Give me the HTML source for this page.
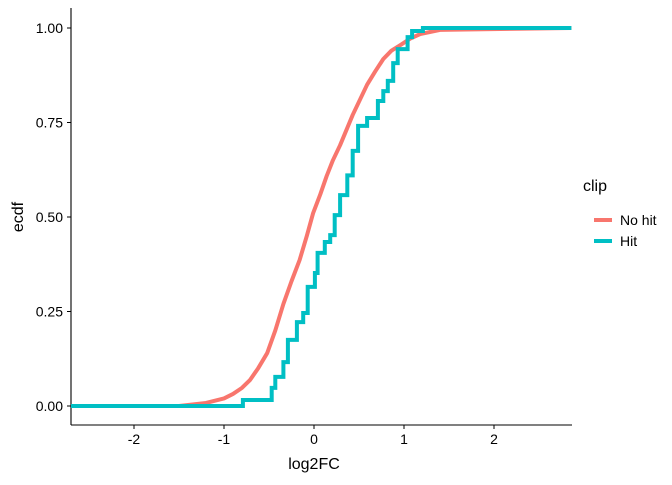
<!DOCTYPE html>
<html><head><meta charset="utf-8"><style>
body{margin:0;background:#fff;}
svg text{font-family:"Liberation Sans",Arial,sans-serif;}
</style></head><body>
<svg id="chart" width="672" height="480" xmlns="http://www.w3.org/2000/svg">
<g id="axes"></g>
<g id="series"></g>
<text x="314" y="469" font-size="16" text-anchor="middle" fill="#000">log2FC</text>
<text transform="translate(23,217) rotate(-90)" font-size="16" text-anchor="middle" fill="#000">ecdf</text>
<g>
<text x="583" y="191" font-size="16" fill="#000">clip</text>
<line x1="594" x2="612" y1="220" y2="220" stroke="#F8766D" stroke-width="4"/>
<text x="620" y="225" font-size="14" fill="#000">No hit</text>
<line x1="594" x2="612" y1="241" y2="241" stroke="#00BFC4" stroke-width="4"/>
<text x="620" y="246" font-size="14" fill="#000">Hit</text>
</g>
</svg>
<script>
const xTicks=[-2,-1,0,1,2];
const xTickLabels=["-2","-1","0","1","2"];
const yTicks=[0,0.25,0.5,0.75,1];
const yTickLabels=["0.00","0.25","0.50","0.75","1.00"];
const noHitX=[-2.7,-1.5,-1.2,-1.0,-0.9,-0.8,-0.71,-0.62,-0.52,-0.43,-0.34,-0.25,-0.16,-0.08,-0.01,0.07,0.14,0.21,0.29,0.36,0.43,0.51,0.59,0.68,0.77,0.86,0.96,1.07,1.18,1.4,2.86];
const noHitY=[0,0,0.008,0.02,0.032,0.048,0.069,0.1,0.14,0.2,0.27,0.33,0.386,0.45,0.51,0.56,0.608,0.65,0.69,0.73,0.77,0.81,0.85,0.885,0.918,0.94,0.955,0.972,0.984,0.995,1];
const hitX=[-2.7,-0.79,-0.47,-0.43,-0.34,-0.29,-0.19,-0.12,-0.07,0.01,0.04,0.12,0.18,0.23,0.29,0.37,0.43,0.49,0.59,0.71,0.77,0.82,0.88,0.93,1.04,1.09,1.21,1.26];
const hitY=[0,0.016,0.048,0.077,0.116,0.175,0.222,0.246,0.315,0.352,0.405,0.434,0.452,0.505,0.558,0.61,0.675,0.741,0.762,0.807,0.833,0.86,0.907,0.944,0.976,0.992,1,1];
const xMin=-2.7,xMax=2.86;
const xs=v=>314+v*90, ys=v=>406-v*378;
const NS="http://www.w3.org/2000/svg";
const axes=document.getElementById('axes'), series=document.getElementById('series');
function mk(tag,attrs,parent){const e=document.createElementNS(NS,tag);for(const k in attrs)e.setAttribute(k,attrs[k]);parent.appendChild(e);return e;}
let l=mk('line',{x1:71,x2:71,y1:8,y2:425,stroke:'#000','stroke-width':1.1},axes);


l=mk('line',{x1:71,x2:572,y1:425,y2:425,stroke:'#000','stroke-width':1.1},axes);


xTicks.forEach((t,i)=>{
 const tk=mk('line',{x1:xs(t),x2:xs(t),y1:425,y2:429,stroke:'#000'},axes);
 
 
 const tx=mk('text',{x:xs(t),y:444,'font-size':14,'text-anchor':'middle',fill:'#000'},axes);
 tx.textContent=xTickLabels[i];
 
 
});
yTicks.forEach((t,i)=>{
 const tk=mk('line',{x1:67,x2:71,y1:ys(t),y2:ys(t),stroke:'#000'},axes);
 
 
 const tx=mk('text',{x:63,y:ys(t)+5,'font-size':14,'text-anchor':'end',fill:'#000'},axes);
 tx.textContent=yTickLabels[i];
 
 
});
let d=noHitX.map((x,i)=>(i?'L':'M')+xs(x)+','+ys(noHitY[i])).join('');
let p=mk('path',{d:d,fill:'none',stroke:'#F8766D','stroke-width':4,'stroke-linejoin':'round'},series);


d='M'+xs(hitX[0])+','+ys(hitY[0]);
for(let i=1;i<hitX.length;i++){d+='H'+xs(hitX[i])+'V'+ys(hitY[i]);}
d+='H'+xs(xMax);
p=mk('path',{d:d,fill:'none',stroke:'#00BFC4','stroke-width':4},series);


</script>
</body></html>
